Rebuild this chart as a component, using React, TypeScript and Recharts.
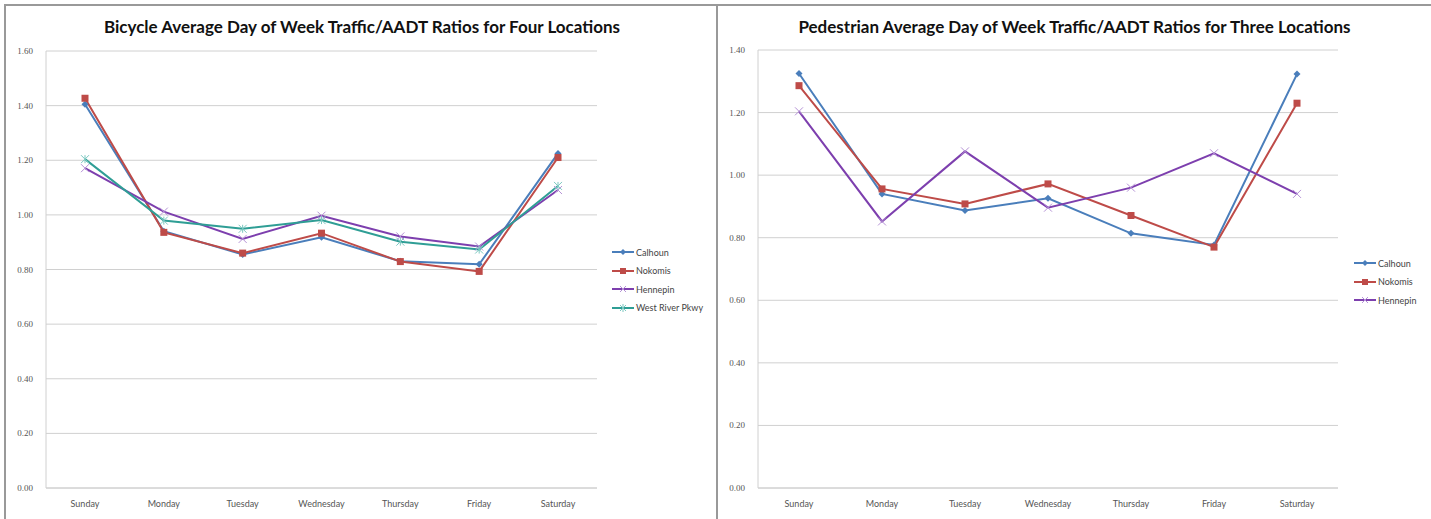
import React from "react";
import { LineChart, Line, XAxis, YAxis, CartesianGrid } from "recharts";

const days = ["Sunday", "Monday", "Tuesday", "Wednesday", "Thursday", "Friday", "Saturday"];

// bicycle ratios
const bikeCalhoun = [1.405, 0.94, 0.855, 0.918, 0.83, 0.819, 1.225];
const bikeNokomis = [1.427, 0.936, 0.86, 0.933, 0.829, 0.793, 1.21];
const bikeHennepin = [1.171, 1.012, 0.912, 0.997, 0.921, 0.884, 1.091];
const bikeWestRiver = [1.204, 0.979, 0.949, 0.981, 0.902, 0.873, 1.106];

// pedestrian ratios
const pedCalhoun = [1.325, 0.94, 0.887, 0.926, 0.814, 0.777, 1.323];
const pedNokomis = [1.286, 0.956, 0.908, 0.972, 0.871, 0.77, 1.23];
const pedHennepin = [1.204, 0.852, 1.076, 0.896, 0.96, 1.07, 0.94];

const bikeTicks = [0, 0.2, 0.4, 0.6, 0.8, 1.0, 1.2, 1.4, 1.6];
const pedTicks = [0, 0.2, 0.4, 0.6, 0.8, 1.0, 1.2, 1.4];

const bikeData = days.map((d, i) => ({
  day: d,
  calhoun: bikeCalhoun[i],
  nokomis: bikeNokomis[i],
  hennepin: bikeHennepin[i],
  westRiver: bikeWestRiver[i],
}));

const pedData = days.map((d, i) => ({
  day: d,
  calhoun: pedCalhoun[i],
  nokomis: pedNokomis[i],
  hennepin: pedHennepin[i],
}));

const BLUE = "#4a7ebb";
const RED = "#be4b48";
const PURPLE = "#7d3fae";
const TEAL = "#2f9e95";

const Diamond = (props: any) => {
  const { cx, cy } = props;
  if (cx == null || cy == null) return null;
  return <path d={`M${cx},${cy - 3.5}L${cx + 3.5},${cy}L${cx},${cy + 3.5}L${cx - 3.5},${cy}Z`} fill={BLUE} />;
};
const Square = (props: any) => {
  const { cx, cy } = props;
  if (cx == null || cy == null) return null;
  return <rect x={cx - 3.5} y={cy - 3.5} width={7} height={7} fill={RED} />;
};
const Cross = (props: any) => {
  const { cx, cy } = props;
  if (cx == null || cy == null) return null;
  return (
    <path d={`M${cx - 4},${cy - 4}L${cx + 4},${cy + 4}M${cx - 4},${cy + 4}L${cx + 4},${cy - 4}`} stroke="#b592d6" strokeWidth={1} />
  );
};
const Star = (props: any) => {
  const { cx, cy } = props;
  if (cx == null || cy == null) return null;
  return (
    <path
      d={`M${cx - 4},${cy - 4}L${cx + 4},${cy + 4}M${cx - 4},${cy + 4}L${cx + 4},${cy - 4}M${cx},${cy - 4}L${cx},${cy + 4}`}
      stroke="#7cc8c1"
      strokeWidth={1}
    />
  );
};

const YTick = (props: any) => {
  const { x, y, payload } = props;
  return (
    <text x={x - 3} y={y} dy={3} textAnchor="end" fontFamily="'Liberation Serif', serif" fontSize={9} fill="#555">
      {payload.value.toFixed(2)}
    </text>
  );
};
const XTick = (props: any) => {
  const { x, y, payload } = props;
  return (
    <text x={x} y={y} dy={11} textAnchor="middle" fontFamily="Lato, sans-serif" fontSize={9} fill="#555">
      {payload.value}
    </text>
  );
};

const legendItem = (color: string, label: string, marker: React.ReactNode) => (
  <div key={label} style={{ display: "flex", alignItems: "center", height: 18.5 }}>
    <svg width={22} height={10}>
      <line x1={0} y1={5} x2={22} y2={5} stroke={color} strokeWidth={2} />
      {marker}
    </svg>
    <span style={{ marginLeft: 2, fontFamily: "Lato, sans-serif", fontSize: 9, color: "#444" }}>{label}</span>
  </div>
);

const titleStyle: React.CSSProperties = {
  position: "absolute",
  top: 16,
  textAlign: "center",
  fontFamily: "Lato, sans-serif",
  fontWeight: 700,
  fontSize: 17,
  color: "#111",
};

export default function App() {
  return (
    <div style={{ position: "absolute", left: 0, top: 0, width: 1431, height: 519, background: "#fff", overflow: "hidden" }}>
      <div style={{ position: "absolute", left: 4, top: 4, width: 1427, height: 520, borderTop: "2px solid #999", borderLeft: "2px solid #999" }} />
      <div style={{ position: "absolute", left: 716, top: 4, width: 2, height: 520, background: "#999" }} />

      <div style={{ ...titleStyle, left: 6, width: 712 }}>Bicycle Average Day of Week Traffic/AADT Ratios for Four Locations</div>
      <div style={{ ...titleStyle, left: 718, width: 713 }}>Pedestrian Average Day of Week Traffic/AADT Ratios for Three Locations</div>

      <div style={{ position: "absolute", left: 0, top: 0 }}>
        <LineChart width={716} height={519} data={bikeData} margin={{ top: 51, right: 119, bottom: 6, left: 0 }}>
          <CartesianGrid vertical={false} stroke="#d0d0d0" />
          <XAxis
            dataKey="day"
            padding={{ left: 39, right: 39 }}
            axisLine={{ stroke: "#d0d0d0" }}
            tickLine={false}
            tick={<XTick />}
            height={25}
            interval={0}
          />
          <YAxis
            domain={[0, 1.6]}
            ticks={bikeTicks}
            width={46}
            axisLine={{ stroke: "#d0d0d0" }}
            tickLine={false}
            tickSize={8}
            tick={<YTick />}
            interval={0}
          />
          <Line dataKey="calhoun" stroke={BLUE} strokeWidth={2} dot={<Diamond />} isAnimationActive={false} />
          <Line dataKey="nokomis" stroke={RED} strokeWidth={2} dot={<Square />} isAnimationActive={false} />
          <Line dataKey="hennepin" stroke={PURPLE} strokeWidth={2} dot={<Cross />} isAnimationActive={false} />
          <Line dataKey="westRiver" stroke={TEAL} strokeWidth={2} dot={<Star />} isAnimationActive={false} />
        </LineChart>
      </div>
      <div style={{ position: "absolute", left: 612, top: 243, width: 100 }}>
        {legendItem(BLUE, "Calhoun", <path d="M11,2L14,5L11,8L8,5Z" fill={BLUE} />)}
        {legendItem(RED, "Nokomis", <rect x={8} y={2} width={6} height={6} fill={RED} />)}
        {legendItem(PURPLE, "Hennepin", <path d="M8,2L14,8M8,8L14,2" stroke="#b592d6" />)}
        {legendItem(TEAL, "West River Pkwy", <path d="M8,2L14,8M8,8L14,2M11,1L11,9" stroke="#7cc8c1" />)}
      </div>

      <div style={{ position: "absolute", left: 716, top: 0 }}>
        <LineChart width={715} height={519} data={pedData} margin={{ top: 50, right: 93, bottom: 6, left: 0 }}>
          <CartesianGrid vertical={false} stroke="#d0d0d0" />
          <XAxis
            dataKey="day"
            padding={{ left: 41, right: 41 }}
            axisLine={{ stroke: "#d0d0d0" }}
            tickLine={false}
            tick={<XTick />}
            height={25}
            interval={0}
          />
          <YAxis
            domain={[0, 1.4]}
            ticks={pedTicks}
            width={42}
            axisLine={{ stroke: "#d0d0d0" }}
            tickLine={false}
            tickSize={8}
            tick={<YTick />}
            interval={0}
          />
          <Line dataKey="calhoun" stroke={BLUE} strokeWidth={2} dot={<Diamond />} isAnimationActive={false} />
          <Line dataKey="nokomis" stroke={RED} strokeWidth={2} dot={<Square />} isAnimationActive={false} />
          <Line dataKey="hennepin" stroke={PURPLE} strokeWidth={2} dot={<Cross />} isAnimationActive={false} />
        </LineChart>
      </div>
      <div style={{ position: "absolute", left: 1354, top: 254, width: 76 }}>
        {legendItem(BLUE, "Calhoun", <path d="M11,2L14,5L11,8L8,5Z" fill={BLUE} />)}
        {legendItem(RED, "Nokomis", <rect x={8} y={2} width={6} height={6} fill={RED} />)}
        {legendItem(PURPLE, "Hennepin", <path d="M8,2L14,8M8,8L14,2" stroke="#b592d6" />)}
      </div>
    </div>
  );
}
